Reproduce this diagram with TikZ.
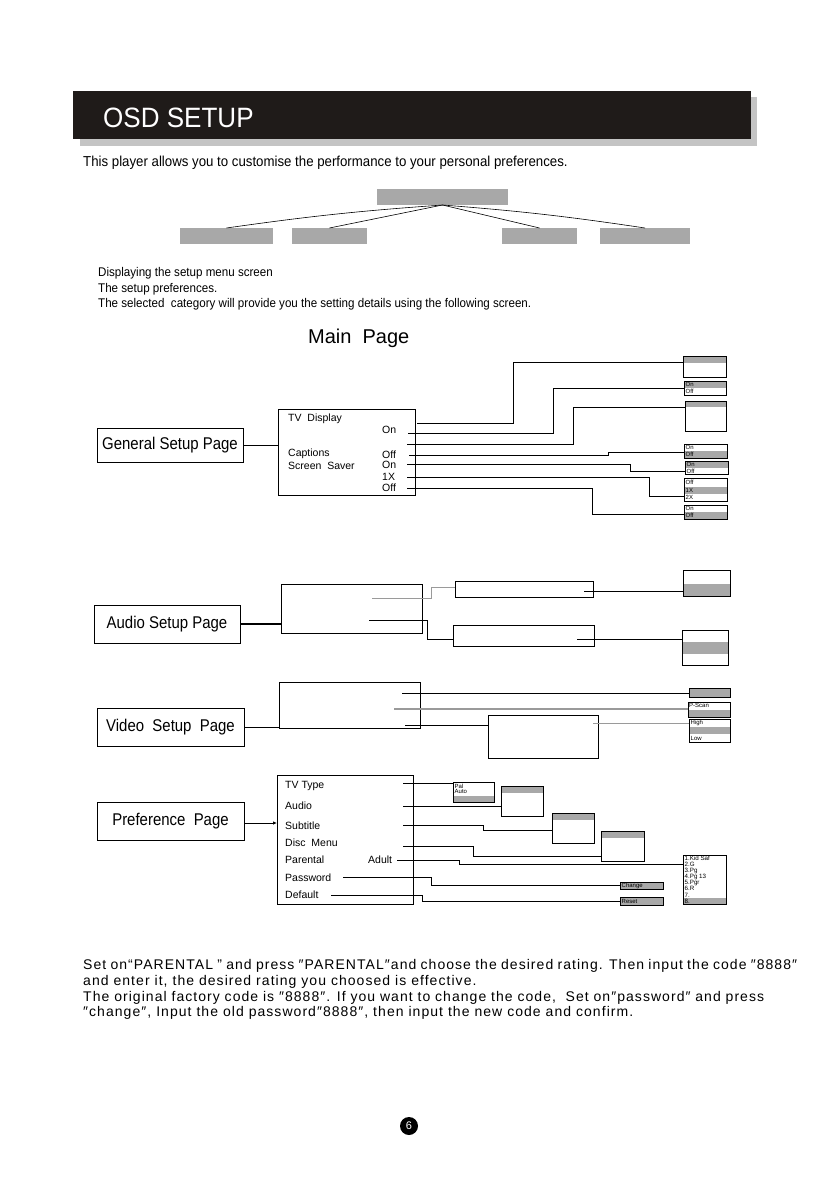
\documentclass[tikz,border=0pt]{standalone}
\usepackage{fontspec}
\setmainfont{Liberation Sans}
\newfontfamily\cond[FakeStretch=0.88]{Liberation Sans}
\newfontfamily\condb[FakeStretch=0.92]{Liberation Sans}
\newfontfamily\titlefont[FakeStretch=0.93]{Liberation Sans}
\newfontfamily\spaced[LetterSpace=7.5]{Liberation Sans}
\usetikzlibrary{fit,arrows.meta}
\definecolor{tg}{HTML}{A8A8A8}
\definecolor{shadowgray}{HTML}{C4C4C4}
\definecolor{barblack}{HTML}{1F1B19}
\definecolor{lgray}{HTML}{9A9A9A}
\newcommand\Bx[6][]{\node[bx,fit={(#3,#4) (#5,#6)},#1] (#2) {};}
\newcommand\Gs[4]{\fill[tg] (#1,#2) rectangle (#3,#4);}
\begin{document}
\begin{tikzpicture}[x=1pt,y=-1pt,
  bx/.style={draw, line width=0.9pt, inner sep=0pt, outer sep=0pt},
  gbx/.style={fill=tg, inner sep=0pt, outer sep=0pt},
  ln/.style={line width=0.8pt},
  lng/.style={line width=0.8pt, draw=lgray},
  txt/.style={inner sep=0pt, anchor=west},
  body/.style={inner sep=0pt, anchor=west, font=\condb\fontsize{14.4}{16}\selectfont},
  desc/.style={inner sep=0pt, anchor=west, font=\condb\fontsize{12.6}{14}\selectfont},
  note/.style={inner sep=0pt, anchor=west, font=\spaced\fontsize{14}{16}\selectfont},
  menu/.style={inner sep=0pt, anchor=west, font=\fontsize{10.5}{12}\selectfont},
  opt/.style={inner sep=0pt, anchor=west, font=\fontsize{6}{6.5}\selectfont},
  page/.style={font=\cond\fontsize{17}{19}\selectfont, inner sep=0pt}]
\useasboundingbox (0,0) rectangle (822,1191);
\fill[white] (0,0) rectangle (822,1191);
% header
\fill[shadowgray] (80,97) rectangle (757,146);
\node[fill=barblack, inner sep=0pt, outer sep=0pt, fit={(73,91) (751,139)}] (bar) {};
\node[txt, text=white, font=\titlefont\fontsize{28}{30}\selectfont] (title) at (103,118) {OSD SETUP};
\node[body] (intro) at (83,163) {This player allows you to customise the performance to your personal preferences.};
% tree
\node[gbx, fit={(377,189) (508,205)}] (t0) {};
\node[gbx, fit={(180,228) (273,244)}] (t1) {};
\node[gbx, fit={(292,228) (367,244)}] (t2) {};
\node[gbx, fit={(502,228) (577,244)}] (t3) {};
\node[gbx, fit={(600,228) (690,244)}] (t4) {};
\draw[ln, line width=0.6pt] (t0.south) to[bend right=2] (t1.north);
\draw[ln, line width=0.6pt] (t0.south) -- (t2.north);
\draw[ln, line width=0.6pt] (t0.south) -- (t3.north);
\draw[ln, line width=0.6pt] (t0.south) to[bend left=2] (t4.north);
\node[desc] (d1) at (98,273) {Displaying the setup menu screen};
\node[desc] (d2) at (98,289) {The setup preferences.};
\node[desc] (d3) at (98,304) {The selected\ \ category will provide you the setting details using the following screen.};
\node[txt, font=\fontsize{20}{22}\selectfont] (mainpage) at (308,338) {Main\ \ Page};
% ---------- General setup
\Bx{gsp}{97}{428}{243}{462}
\node[page] (gspt) at (gsp.center) {General Setup Page};
\Bx{gm}{278}{409}{415}{495}
\draw[ln] (gsp.east) -- (gsp.east -| gm.west);
\node[menu] (gtv) at (288,419) {TV\ \ Display};
\node[menu] (gon1) at (382,430) {On};
\node[menu] (gcap) at (288,454) {Captions};
\node[menu] (goff1) at (382,455) {Off};
\node[menu] (gss) at (288,466) {Screen\ \ Saver};
\node[menu] (gon2) at (382,465) {On};
\node[menu] (g1x) at (382,477) {1X};
\node[menu] (goff2) at (382,488) {Off};
% right boxes
\Gs{683}{356}{726}{363}\Bx{b1}{683}{356}{726}{377}
\Gs{684}{381}{726}{388}\Bx{b2}{684}{381}{726}{395}
\node[opt] (b2a) at (685.5,384.5) {On};
\node[opt] (b2b) at (685.5,391.5) {Off};
\Gs{685}{401}{726}{407}\Bx{b3}{685}{401}{726}{431}
\Gs{684}{451}{727}{458}\Bx{b4}{684}{444}{727}{458}
\node[opt] (b4a) at (685.5,447.5) {On};
\node[opt] (b4b) at (685.5,454.5) {Off};
\Gs{685}{461}{728}{467.5}\Bx{b5}{685}{461}{728}{474}
\node[opt] (b5a) at (686.5,464.5) {On};
\node[opt] (b5b) at (686.5,471) {Off};
\Gs{684}{487}{727}{494}\Bx{b6}{684}{478}{727}{501}
\node[opt] (b6a) at (685.5,482.5) {Off};
\node[opt] (b6b) at (685.5,490.5) {1X};
\node[opt] (b6c) at (685.5,497.5) {2X};
\Gs{684}{512}{727}{519}\Bx{b7}{684}{505}{727}{519}
\node[opt] (b7a) at (685.5,508.5) {On};
\node[opt] (b7b) at (685.5,515.5) {Off};
\coordinate (g1) at (417,423);
\coordinate (g2) at (408,433);
\coordinate (g3) at (407,444);
\coordinate (g4) at (409,455);
\coordinate (g5) at (407,464);
\coordinate (g6) at (407,477);
\coordinate (g7) at (407,488);
\draw[ln] (g1) -| (513,362) -- (b1.west |- 0,362);
\draw[ln] (g2) -| (553,388) -- (b2.west |- 0,388);
\draw[ln] (g3) -| (573,407) -- (b3.west |- 0,407);
\draw[ln] (g4) -| (608,452) -- (b4.west |- 0,452);
\draw[ln] (g5) -| (630,471) -- (b5.west |- 0,471);
\draw[ln] (g6) -| (649,496) -- (b6.west |- 0,496);
\draw[ln] (g7) -| (592,514) -- (b7.west |- 0,514);
% ---------- Audio setup
\Bx{asp}{94}{605}{240}{643}
\node[page] (aspt) at (asp.center) {Audio Setup Page};
\Bx{am}{281}{584}{422}{633}
\draw[line width=2pt] (asp.east) -- (asp.east -| am.west);
\Bx{a1}{455}{581}{593}{597}
\Bx{a2}{453}{625}{594}{646}
\coordinate (ga1) at (372,598);
\coordinate (ga2) at (369,620);
\draw[lng] (ga1) -| (431,587) -- (a1.west |- 0,587);
\draw[ln] (ga2) -| (427,639) -- (a2.west |- 0,639);
\Gs{683}{584}{730}{596}\Bx{r1}{683}{570}{730}{596}
\Gs{682}{642}{728}{654}\Bx{r2}{682}{630}{728}{665}
\coordinate (ga3) at (584,591);
\coordinate (ga4) at (577,639);
\draw[ln] (ga3) -- (r1.west |- 0,591);
\draw[ln] (ga4) -- (r2.west |- 0,639);
% ---------- Video setup
\Bx{vsp}{97}{708}{244}{746}
\node[page] (vspt) at (vsp.center) {Video\ \ Setup\ \ Page};
\Bx{vm}{279}{682}{420}{728}
\draw[ln] (vsp.east |- 0,727) -- (vm.west |- 0,727);
\node[bx, fill=tg, fit={(689,688) (730,697)}] (v1) {};
\Gs{688}{709.5}{730}{717}\Bx{v2}{688}{702}{730}{717}
\node[opt] (v2a) at (689,705.5) {P-Scan};
\Bx{vs}{488}{715}{598}{758}
\Gs{689}{727}{730}{734}\Bx{v3}{689}{719}{730}{742}
\node[opt] (v3a) at (690.5,723) {High};
\node[opt] (v3b) at (690.5,738) {Low};
\coordinate (gv1) at (402,693);
\coordinate (gv2) at (394,709);
\coordinate (gv3) at (405,725);
\coordinate (gv4) at (593,723);
\draw[ln] (gv1) -- (v1.west |- 0,693);
\draw[lng, line width=1.2pt] (gv2) -- (v2.west |- 0,709);
\draw[ln] (gv3) -- (vs.west |- 0,725);
\draw[lng] (gv4) -- (v3.west |- 0,723);
% ---------- Preference
\Bx{psp}{97}{802}{244}{840}
\node[page] (pspt) at (psp.center) {Preference\ \ Page};
\Bx{pm}{277}{775}{413}{904}
\draw[ln, -{Latex[length=4pt,width=3.5pt]}] (psp.east |- 0,823) -- (pm.west |- 0,823);
\node[menu] (ptv) at (285,786) {TV\ Type};
\node[menu] (pau) at (285,806) {Audio};
\node[menu] (psu) at (285,826) {Subtitle};
\node[menu] (pdm) at (285,843) {Disc\ \ Menu};
\node[menu] (ppa) at (285,860) {Parental};
\node[menu] (pad) at (368,860) {Adult};
\node[menu] (ppw) at (285,878) {Password};
\node[menu] (pde) at (285,895) {Default};
\Gs{453}{796}{494}{802}\Bx{pp}{453}{782}{494}{802}
\node[opt] (ppa1) at (454.5,786) {Pal};
\node[opt] (ppa2) at (454.5,791.5) {Auto};
\Gs{501}{786}{543}{793}\Bx{pa}{501}{786}{543}{816}
\Gs{552}{813}{594}{820}\Bx{ps}{552}{813}{594}{843}
\Gs{601}{831}{644}{838}\Bx{pd}{601}{831}{644}{861}
\Gs{683}{897.5}{726}{904}\Bx{pr}{683}{855}{726}{904}
\node[inner sep=0pt, anchor=north west, align=left, font=\fontsize{6.2}{6.05}\selectfont] (prt) at (684.5,856) {1.Kid Saf\\2.G\\3.Pg\\4.Pg 13\\5.Pgr\\6.R\\7.\\8.};
\node[bx, fill=tg, fit={(620,882) (663,889)}] (pc) {};
\node[opt] (pct) at (621.5,885.5) {Change};
\node[bx, fill=tg, fit={(620,897) (663,905)}] (pre) {};
\node[opt] (pret) at (621.5,901) {Reset};
\coordinate (gp1) at (403,783);
\coordinate (gp2) at (403,806);
\coordinate (gp3) at (403,825);
\coordinate (gp4) at (403,846);
\coordinate (gp5) at (397,860);
\coordinate (gp6) at (343,877);
\coordinate (gp7) at (331,895);
\draw[ln] (gp1) -- (pp.west |- 0,783);
\draw[ln] (gp2) -- (pa.west |- 0,806);
\draw[ln] (gp3) -| (483,830) -- (ps.west |- 0,830);
\draw[ln] (gp4) -| (473,856) -- (pd.west |- 0,856);
\draw[ln] (gp5) -| (459,864) -- (pr.west |- 0,864);
\draw[ln] (gp6) -| (431,885) -- (pc.west |- 0,885);
\draw[ln] (gp7) -| (422,901) -- (pre.west |- 0,901);
% ---------- bottom text
\node[note] (e1) at (83,966) {\makebox[714pt][s]{Set on“PARENTAL ” and press ″PARENTAL″and choose the desired rating. Then input the code ″8888″}};
\node[note] (e2) at (83,982) {and enter it, the desired rating you choosed is effective.};
\node[note] (e3) at (83,998) {\makebox[681pt][s]{The original factory code is ″8888″. If you want to change the code,\ \ Set on″password″ and press}};
\node[note] (e4) at (83,1013) {″change″, Input the old password″8888″, then input the new code and confirm.};
% page number
\node[circle, fill=black, minimum size=18pt, inner sep=0pt, text=white, font=\fontsize{11}{12}\selectfont] (pnum) at (409,1126) {6};
\end{tikzpicture}
\end{document}
